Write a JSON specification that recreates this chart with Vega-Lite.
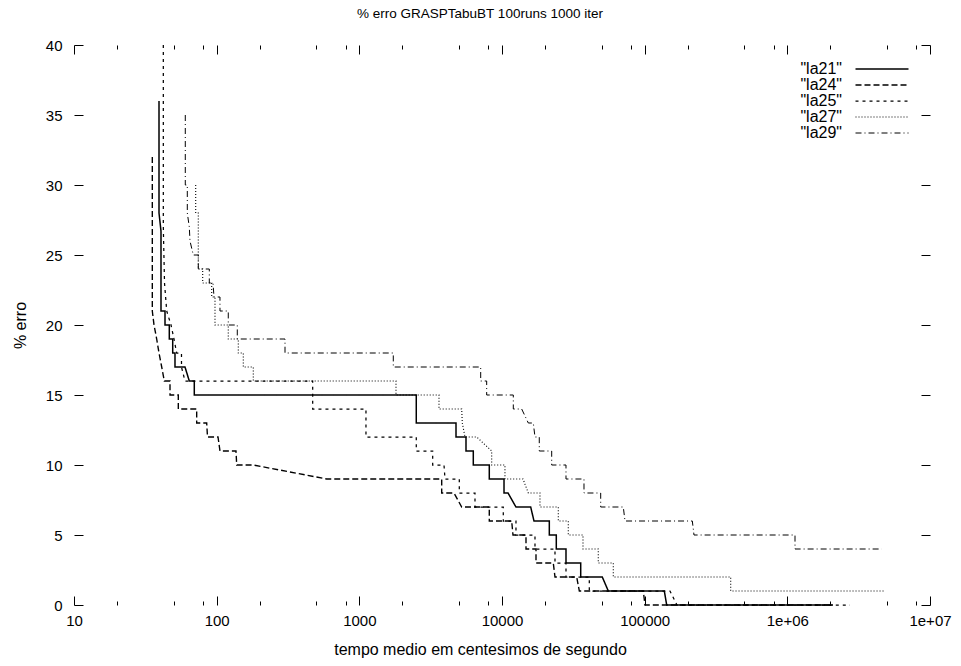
{
  "$schema": "https://vega.github.io/schema/vega-lite/v6.json",
  "width": 856,
  "height": 560,
  "autosize": {"type": "none"},
  "padding": {"left": 74, "top": 45, "right": 31, "bottom": 61},
  "background": "white",
  "title": {"text": "% erro GRASPTabuBT 100runs 1000 iter", "font": "Liberation Sans", "fontSize": 13.5, "fontWeight": "normal", "color": "black", "anchor": "middle", "dx": -22, "offset": 18},
  "datasets": {
    "d": [
      {"s": "\"la21\"", "i": 1, "t": 39.43, "e": 36},
      {"s": "\"la21\"", "i": 2, "t": 39.43, "e": 28},
      {"s": "\"la21\"", "i": 3, "t": 40.72, "e": 26.7},
      {"s": "\"la21\"", "i": 4, "t": 40.72, "e": 21},
      {"s": "\"la21\"", "i": 5, "t": 43.44, "e": 21},
      {"s": "\"la21\"", "i": 6, "t": 43.44, "e": 20},
      {"s": "\"la21\"", "i": 7, "t": 46.56, "e": 20},
      {"s": "\"la21\"", "i": 8, "t": 46.56, "e": 19},
      {"s": "\"la21\"", "i": 9, "t": 49.19, "e": 19},
      {"s": "\"la21\"", "i": 10, "t": 49.19, "e": 18},
      {"s": "\"la21\"", "i": 11, "t": 51.04, "e": 18},
      {"s": "\"la21\"", "i": 12, "t": 51.04, "e": 17},
      {"s": "\"la21\"", "i": 13, "t": 59.98, "e": 17},
      {"s": "\"la21\"", "i": 14, "t": 64.29, "e": 16},
      {"s": "\"la21\"", "i": 15, "t": 69.69, "e": 16},
      {"s": "\"la21\"", "i": 16, "t": 69.69, "e": 15},
      {"s": "\"la21\"", "i": 17, "t": 2507, "e": 15},
      {"s": "\"la21\"", "i": 18, "t": 2507, "e": 13},
      {"s": "\"la21\"", "i": 19, "t": 4760, "e": 13},
      {"s": "\"la21\"", "i": 20, "t": 4760, "e": 12},
      {"s": "\"la21\"", "i": 21, "t": 5593, "e": 12},
      {"s": "\"la21\"", "i": 22, "t": 5593, "e": 11},
      {"s": "\"la21\"", "i": 23, "t": 6292, "e": 11},
      {"s": "\"la21\"", "i": 24, "t": 6292, "e": 10},
      {"s": "\"la21\"", "i": 25, "t": 8145, "e": 10},
      {"s": "\"la21\"", "i": 26, "t": 8145, "e": 9},
      {"s": "\"la21\"", "i": 27, "t": 10330, "e": 9},
      {"s": "\"la21\"", "i": 28, "t": 10330, "e": 8},
      {"s": "\"la21\"", "i": 29, "t": 11020, "e": 8},
      {"s": "\"la21\"", "i": 30, "t": 12530, "e": 7},
      {"s": "\"la21\"", "i": 31, "t": 15890, "e": 7},
      {"s": "\"la21\"", "i": 32, "t": 16760, "e": 6},
      {"s": "\"la21\"", "i": 33, "t": 21460, "e": 6},
      {"s": "\"la21\"", "i": 34, "t": 21460, "e": 5},
      {"s": "\"la21\"", "i": 35, "t": 24020, "e": 5},
      {"s": "\"la21\"", "i": 36, "t": 24020, "e": 4},
      {"s": "\"la21\"", "i": 37, "t": 28090, "e": 4},
      {"s": "\"la21\"", "i": 38, "t": 28090, "e": 3},
      {"s": "\"la21\"", "i": 39, "t": 35620, "e": 3},
      {"s": "\"la21\"", "i": 40, "t": 35620, "e": 2},
      {"s": "\"la21\"", "i": 41, "t": 50470, "e": 2},
      {"s": "\"la21\"", "i": 42, "t": 55590, "e": 1},
      {"s": "\"la21\"", "i": 43, "t": 137300, "e": 1},
      {"s": "\"la21\"", "i": 44, "t": 142700, "e": 0},
      {"s": "\"la21\"", "i": 45, "t": 2089000, "e": 0},

      {"s": "\"la24\"", "i": 1, "t": 35.39, "e": 32},
      {"s": "\"la24\"", "i": 2, "t": 35.39, "e": 21},
      {"s": "\"la24\"", "i": 3, "t": 36.38, "e": 20},
      {"s": "\"la24\"", "i": 4, "t": 37.98, "e": 19},
      {"s": "\"la24\"", "i": 5, "t": 39.43, "e": 18},
      {"s": "\"la24\"", "i": 6, "t": 41.19, "e": 17},
      {"s": "\"la24\"", "i": 7, "t": 42.96, "e": 16},
      {"s": "\"la24\"", "i": 8, "t": 47.09, "e": 16},
      {"s": "\"la24\"", "i": 9, "t": 47.09, "e": 15},
      {"s": "\"la24\"", "i": 10, "t": 53.84, "e": 15},
      {"s": "\"la24\"", "i": 11, "t": 53.84, "e": 14},
      {"s": "\"la24\"", "i": 12, "t": 72.44, "e": 14},
      {"s": "\"la24\"", "i": 13, "t": 72.44, "e": 13},
      {"s": "\"la24\"", "i": 14, "t": 85.13, "e": 13},
      {"s": "\"la24\"", "i": 15, "t": 86.24, "e": 12},
      {"s": "\"la24\"", "i": 16, "t": 102.2, "e": 12},
      {"s": "\"la24\"", "i": 17, "t": 105.5, "e": 11},
      {"s": "\"la24\"", "i": 18, "t": 136.6, "e": 11},
      {"s": "\"la24\"", "i": 19, "t": 138.2, "e": 10},
      {"s": "\"la24\"", "i": 20, "t": 180.6, "e": 10},
      {"s": "\"la24\"", "i": 21, "t": 590.7, "e": 9},
      {"s": "\"la24\"", "i": 22, "t": 3779, "e": 9},
      {"s": "\"la24\"", "i": 23, "t": 3779, "e": 8},
      {"s": "\"la24\"", "i": 24, "t": 4608, "e": 8},
      {"s": "\"la24\"", "i": 25, "t": 5218, "e": 7},
      {"s": "\"la24\"", "i": 26, "t": 8145, "e": 7},
      {"s": "\"la24\"", "i": 27, "t": 8145, "e": 6},
      {"s": "\"la24\"", "i": 28, "t": 11690, "e": 6},
      {"s": "\"la24\"", "i": 29, "t": 11940, "e": 5},
      {"s": "\"la24\"", "i": 30, "t": 14730, "e": 5},
      {"s": "\"la24\"", "i": 31, "t": 14730, "e": 4},
      {"s": "\"la24\"", "i": 32, "t": 17310, "e": 4},
      {"s": "\"la24\"", "i": 33, "t": 17310, "e": 3},
      {"s": "\"la24\"", "i": 34, "t": 22880, "e": 3},
      {"s": "\"la24\"", "i": 35, "t": 23520, "e": 2},
      {"s": "\"la24\"", "i": 36, "t": 33390, "e": 2},
      {"s": "\"la24\"", "i": 37, "t": 34830, "e": 1},
      {"s": "\"la24\"", "i": 38, "t": 97800, "e": 1},
      {"s": "\"la24\"", "i": 39, "t": 100500, "e": 0},
      {"s": "\"la24\"", "i": 40, "t": 2089000, "e": 0},

      {"s": "\"la25\"", "i": 1, "t": 42.27, "e": 40},
      {"s": "\"la25\"", "i": 2, "t": 42.27, "e": 27},
      {"s": "\"la25\"", "i": 3, "t": 43.10, "e": 23},
      {"s": "\"la25\"", "i": 4, "t": 44.65, "e": 21},
      {"s": "\"la25\"", "i": 5, "t": 47.86, "e": 20},
      {"s": "\"la25\"", "i": 6, "t": 50.22, "e": 19},
      {"s": "\"la25\"", "i": 7, "t": 52.47, "e": 18},
      {"s": "\"la25\"", "i": 8, "t": 56.68, "e": 18},
      {"s": "\"la25\"", "i": 9, "t": 56.68, "e": 17},
      {"s": "\"la25\"", "i": 10, "t": 59.98, "e": 16},
      {"s": "\"la25\"", "i": 11, "t": 471.0, "e": 16},
      {"s": "\"la25\"", "i": 12, "t": 471.0, "e": 14},
      {"s": "\"la25\"", "i": 13, "t": 1113, "e": 14},
      {"s": "\"la25\"", "i": 14, "t": 1113, "e": 12},
      {"s": "\"la25\"", "i": 15, "t": 2507, "e": 12},
      {"s": "\"la25\"", "i": 16, "t": 2507, "e": 11},
      {"s": "\"la25\"", "i": 17, "t": 3267, "e": 11},
      {"s": "\"la25\"", "i": 18, "t": 3267, "e": 10},
      {"s": "\"la25\"", "i": 19, "t": 3922, "e": 10},
      {"s": "\"la25\"", "i": 20, "t": 3986, "e": 9},
      {"s": "\"la25\"", "i": 21, "t": 5020, "e": 9},
      {"s": "\"la25\"", "i": 22, "t": 5020, "e": 8},
      {"s": "\"la25\"", "i": 23, "t": 6467, "e": 8},
      {"s": "\"la25\"", "i": 24, "t": 6467, "e": 7},
      {"s": "\"la25\"", "i": 25, "t": 10210, "e": 7},
      {"s": "\"la25\"", "i": 26, "t": 10210, "e": 6},
      {"s": "\"la25\"", "i": 27, "t": 12530, "e": 6},
      {"s": "\"la25\"", "i": 28, "t": 12530, "e": 5},
      {"s": "\"la25\"", "i": 29, "t": 17030, "e": 5},
      {"s": "\"la25\"", "i": 30, "t": 17030, "e": 4},
      {"s": "\"la25\"", "i": 31, "t": 23520, "e": 4},
      {"s": "\"la25\"", "i": 32, "t": 23520, "e": 3},
      {"s": "\"la25\"", "i": 33, "t": 28090, "e": 3},
      {"s": "\"la25\"", "i": 34, "t": 28090, "e": 2},
      {"s": "\"la25\"", "i": 35, "t": 40920, "e": 2},
      {"s": "\"la25\"", "i": 36, "t": 40920, "e": 1},
      {"s": "\"la25\"", "i": 37, "t": 150500, "e": 1},
      {"s": "\"la25\"", "i": 38, "t": 168500, "e": 0},
      {"s": "\"la25\"", "i": 39, "t": 2749000, "e": 0},

      {"s": "\"la27\"", "i": 1, "t": 71.29, "e": 30},
      {"s": "\"la27\"", "i": 2, "t": 71.29, "e": 28},
      {"s": "\"la27\"", "i": 3, "t": 74.34, "e": 28},
      {"s": "\"la27\"", "i": 4, "t": 74.34, "e": 24},
      {"s": "\"la27\"", "i": 5, "t": 79.80, "e": 24},
      {"s": "\"la27\"", "i": 6, "t": 79.80, "e": 23},
      {"s": "\"la27\"", "i": 7, "t": 92.30, "e": 23},
      {"s": "\"la27\"", "i": 8, "t": 92.30, "e": 22},
      {"s": "\"la27\"", "i": 9, "t": 97.34, "e": 22},
      {"s": "\"la27\"", "i": 10, "t": 97.34, "e": 20},
      {"s": "\"la27\"", "i": 11, "t": 120.6, "e": 20},
      {"s": "\"la27\"", "i": 12, "t": 120.6, "e": 19},
      {"s": "\"la27\"", "i": 13, "t": 141.8, "e": 19},
      {"s": "\"la27\"", "i": 14, "t": 141.8, "e": 18},
      {"s": "\"la27\"", "i": 15, "t": 153.7, "e": 18},
      {"s": "\"la27\"", "i": 16, "t": 153.7, "e": 17},
      {"s": "\"la27\"", "i": 17, "t": 180.6, "e": 17},
      {"s": "\"la27\"", "i": 18, "t": 180.6, "e": 16},
      {"s": "\"la27\"", "i": 19, "t": 1807, "e": 16},
      {"s": "\"la27\"", "i": 20, "t": 1807, "e": 15},
      {"s": "\"la27\"", "i": 21, "t": 3617, "e": 15},
      {"s": "\"la27\"", "i": 22, "t": 3617, "e": 14},
      {"s": "\"la27\"", "i": 23, "t": 5218, "e": 14},
      {"s": "\"la27\"", "i": 24, "t": 5269, "e": 13},
      {"s": "\"la27\"", "i": 25, "t": 5504, "e": 12},
      {"s": "\"la27\"", "i": 26, "t": 6647, "e": 12},
      {"s": "\"la27\"", "i": 27, "t": 8466, "e": 11},
      {"s": "\"la27\"", "i": 28, "t": 8466, "e": 10},
      {"s": "\"la27\"", "i": 29, "t": 10490, "e": 10},
      {"s": "\"la27\"", "i": 30, "t": 10490, "e": 9},
      {"s": "\"la27\"", "i": 31, "t": 14040, "e": 9},
      {"s": "\"la27\"", "i": 32, "t": 15290, "e": 8},
      {"s": "\"la27\"", "i": 33, "t": 18460, "e": 8},
      {"s": "\"la27\"", "i": 34, "t": 18460, "e": 7},
      {"s": "\"la27\"", "i": 35, "t": 24810, "e": 7},
      {"s": "\"la27\"", "i": 36, "t": 24810, "e": 6},
      {"s": "\"la27\"", "i": 37, "t": 29150, "e": 6},
      {"s": "\"la27\"", "i": 38, "t": 29150, "e": 5},
      {"s": "\"la27\"", "i": 39, "t": 36960, "e": 5},
      {"s": "\"la27\"", "i": 40, "t": 36960, "e": 4},
      {"s": "\"la27\"", "i": 41, "t": 47300, "e": 4},
      {"s": "\"la27\"", "i": 42, "t": 47300, "e": 3},
      {"s": "\"la27\"", "i": 43, "t": 60270, "e": 3},
      {"s": "\"la27\"", "i": 44, "t": 60270, "e": 2},
      {"s": "\"la27\"", "i": 45, "t": 400900, "e": 2},
      {"s": "\"la27\"", "i": 46, "t": 400900, "e": 1},
      {"s": "\"la27\"", "i": 47, "t": 4836000, "e": 1},

      {"s": "\"la29\"", "i": 1, "t": 60.27, "e": 35},
      {"s": "\"la29\"", "i": 2, "t": 60.27, "e": 30},
      {"s": "\"la29\"", "i": 3, "t": 62.25, "e": 30},
      {"s": "\"la29\"", "i": 4, "t": 62.25, "e": 28},
      {"s": "\"la29\"", "i": 5, "t": 64.29, "e": 27},
      {"s": "\"la29\"", "i": 6, "t": 65.02, "e": 26},
      {"s": "\"la29\"", "i": 7, "t": 68.58, "e": 25},
      {"s": "\"la29\"", "i": 8, "t": 74.34, "e": 25},
      {"s": "\"la29\"", "i": 9, "t": 74.34, "e": 24},
      {"s": "\"la29\"", "i": 10, "t": 88.79, "e": 24},
      {"s": "\"la29\"", "i": 11, "t": 88.79, "e": 23},
      {"s": "\"la29\"", "i": 12, "t": 94.25, "e": 23},
      {"s": "\"la29\"", "i": 13, "t": 95.79, "e": 22},
      {"s": "\"la29\"", "i": 14, "t": 105.5, "e": 22},
      {"s": "\"la29\"", "i": 15, "t": 105.5, "e": 21},
      {"s": "\"la29\"", "i": 16, "t": 120.6, "e": 21},
      {"s": "\"la29\"", "i": 17, "t": 120.6, "e": 20},
      {"s": "\"la29\"", "i": 18, "t": 139.5, "e": 20},
      {"s": "\"la29\"", "i": 19, "t": 139.5, "e": 19},
      {"s": "\"la29\"", "i": 20, "t": 301.3, "e": 19},
      {"s": "\"la29\"", "i": 21, "t": 301.3, "e": 18},
      {"s": "\"la29\"", "i": 22, "t": 1730, "e": 18},
      {"s": "\"la29\"", "i": 23, "t": 1730, "e": 17},
      {"s": "\"la29\"", "i": 24, "t": 7090, "e": 17},
      {"s": "\"la29\"", "i": 25, "t": 7090, "e": 16},
      {"s": "\"la29\"", "i": 26, "t": 7810, "e": 16},
      {"s": "\"la29\"", "i": 27, "t": 7810, "e": 15},
      {"s": "\"la29\"", "i": 28, "t": 12000, "e": 15},
      {"s": "\"la29\"", "i": 29, "t": 12000, "e": 14},
      {"s": "\"la29\"", "i": 30, "t": 13740, "e": 14},
      {"s": "\"la29\"", "i": 31, "t": 15290, "e": 13},
      {"s": "\"la29\"", "i": 32, "t": 16570, "e": 13},
      {"s": "\"la29\"", "i": 33, "t": 17030, "e": 12},
      {"s": "\"la29\"", "i": 34, "t": 18250, "e": 12},
      {"s": "\"la29\"", "i": 35, "t": 18250, "e": 11},
      {"s": "\"la29\"", "i": 36, "t": 22300, "e": 11},
      {"s": "\"la29\"", "i": 37, "t": 22300, "e": 10},
      {"s": "\"la29\"", "i": 38, "t": 28090, "e": 10},
      {"s": "\"la29\"", "i": 39, "t": 28090, "e": 9},
      {"s": "\"la29\"", "i": 40, "t": 37560, "e": 9},
      {"s": "\"la29\"", "i": 41, "t": 37560, "e": 8},
      {"s": "\"la29\"", "i": 42, "t": 49180, "e": 8},
      {"s": "\"la29\"", "i": 43, "t": 49180, "e": 7},
      {"s": "\"la29\"", "i": 44, "t": 70830, "e": 7},
      {"s": "\"la29\"", "i": 45, "t": 72800, "e": 6},
      {"s": "\"la29\"", "i": 46, "t": 215800, "e": 6},
      {"s": "\"la29\"", "i": 47, "t": 221700, "e": 5},
      {"s": "\"la29\"", "i": 48, "t": 1132000, "e": 5},
      {"s": "\"la29\"", "i": 49, "t": 1132000, "e": 4},
      {"s": "\"la29\"", "i": 50, "t": 4586000, "e": 4}
    ]
  },
  "data": {"name": "d"},
  "layer": [
    {
      "mark": {"type": "line", "color": "black", "interpolate": "linear"},
      "encoding": {
        "x": {
          "field": "t", "type": "quantitative",
          "scale": {"type": "log", "domain": [10, 10000000], "nice": false},
          "axis": {
            "orient": "bottom",
            "values": [10,20,50,80,100,200,500,800,1000,2000,5000,8000,10000,20000,50000,80000,100000,200000,500000,800000,1000000,2000000,5000000,8000000,10000000],
            "tickSize": {"condition": {"test": "indexof([10,100,1000,10000,100000,1000000,10000000], datum.value) >= 0", "value": -9}, "value": -4},
            "labelExpr": "datum.value == 1000000 ? '1e+06' : datum.value == 10000000 ? '1e+07' : indexof([10,100,1000,10000,100000], datum.value) >= 0 ? '' + datum.value : ''",
            "labelOverlap": false,
            "labelFlush": false,
            "labelPadding": 17,
            "title": "tempo medio em centesimos de segundo",
            "titleFontSize": 16,
            "titleX": 406,
            "titleAlign": "center",
            "titlePadding": 8
          }
        },
        "y": {
          "field": "e", "type": "quantitative",
          "scale": {"domain": [0, 40], "nice": false, "zero": true},
          "axis": {
            "orient": "left",
            "values": [0,5,10,15,20,25,30,35,40],
            "tickSize": -9,
            "labelPadding": 21,
            "title": "% erro",
            "titleFontSize": 16,
            "titlePadding": 17
          }
        },
        "strokeDash": {
          "field": "s", "type": "nominal",
          "scale": {"domain": ["\"la21\"", "\"la24\"", "\"la25\"", "\"la27\"", "\"la29\""], "range": [[1, 0], [6, 3], [3, 4], [1, 2], [6, 3, 1, 3]]},
          "legend": {
            "title": null,
            "orient": "none",
            "legendX": 800,
            "legendY": 16,
            "padding": 0,
            "symbolType": "M-5.3,0H5.3",
            "symbolSize": 100,
            "symbolStrokeColor": "black",
            "symbolStrokeWidth": 1,
            "labelAlign": "right",
            "labelOffset": -48,
            "labelFont": "Liberation Sans",
            "labelFontSize": 16,
            "labelColor": "black",
            "rowPadding": 0
          }
        },
        "strokeWidth": {
          "field": "s", "type": "nominal",
          "scale": {"domain": ["\"la21\"", "\"la24\"", "\"la25\"", "\"la27\"", "\"la29\""], "range": [1.5, 1, 1, 1, 1]},
          "legend": null
        },
        "order": {"field": "i", "type": "quantitative"}
      }
    },
    {
      "mark": {"type": "point", "opacity": 0, "size": 1},
      "encoding": {
        "x": {
          "field": "t", "type": "quantitative",
          "scale": {"type": "log", "domain": [10, 10000000], "nice": false},
          "axis": {
            "orient": "top",
            "values": [10,20,50,80,100,200,500,800,1000,2000,5000,8000,10000,20000,50000,80000,100000,200000,500000,800000,1000000,2000000,5000000,8000000,10000000],
            "tickSize": {"condition": {"test": "indexof([10,100,1000,10000,100000,1000000,10000000], datum.value) >= 0", "value": -9}, "value": -4},
            "labels": false,
            "title": null
          }
        },
        "y": {
          "field": "e", "type": "quantitative",
          "scale": {"domain": [0, 40], "nice": false, "zero": true},
          "axis": {
            "orient": "right",
            "values": [0,5,10,15,20,25,30,35,40],
            "tickSize": -9,
            "labels": false,
            "title": null
          }
        }
      }
    }
  ],
  "resolve": {"axis": {"x": "independent", "y": "independent"}},
  "config": {
    "view": {"stroke": null},
    "axis": {
      "domain": false,
      "grid": false,
      "tickColor": "black",
      "tickWidth": 1,
      "labelColor": "black",
      "titleColor": "black",
      "labelFont": "Liberation Sans",
      "titleFont": "Liberation Sans",
      "labelFontSize": 15,
      "titleFontSize": 15,
      "titleFontWeight": "normal"
    }
  }
}
